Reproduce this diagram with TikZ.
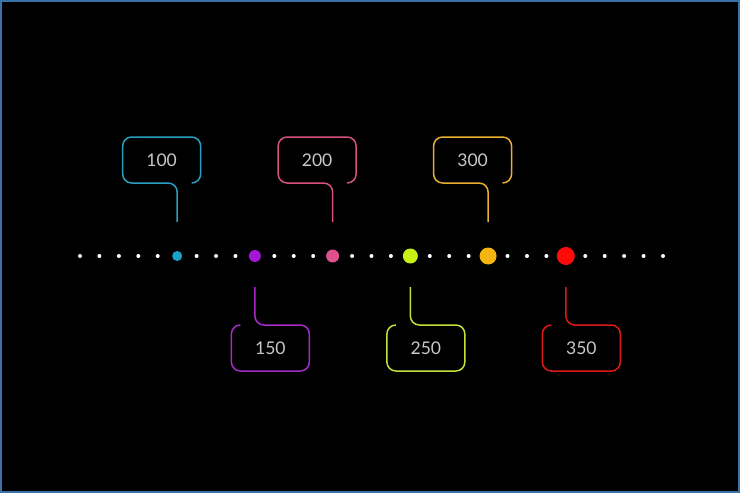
\documentclass[tikz,border=0pt]{standalone}
\usepackage{fontspec}
\setmainfont{Lato}
\usetikzlibrary{calc}
\definecolor{frame}{HTML}{3A72A8}
\definecolor{txt}{HTML}{C8C8C8}
\definecolor{cA}{HTML}{1AA3C9}\definecolor{bA}{HTML}{2A9FC0}
\definecolor{cB}{HTML}{A316D6}\definecolor{bB}{HTML}{A62BC9}
\definecolor{cC}{HTML}{E0508E}\definecolor{bC}{HTML}{D9507F}
\definecolor{cD}{HTML}{C8F014}\definecolor{bD}{HTML}{C6E03A}
\definecolor{cE}{HTML}{F5B50F}\definecolor{bE}{HTML}{E8AE2E}
\definecolor{cF}{HTML}{FF0A0A}\definecolor{bF}{HTML}{E01818}
\tikzset{
  smalldot/.style={circle,fill=white,inner sep=0pt,minimum size=4pt},
  bigdot/.style={circle,inner sep=0pt,minimum size=#1},
  callout/.style={line width=1.5pt,rounded corners=9pt},
  lbl/.style={text=txt,font=\fontsize{17.5}{18}\selectfont,inner sep=0pt}
}
\newcommand\topcallout[4]{%
  \coordinate (#1s) at ($(#1)+(0,-34)$);
  \draw[callout,#2] ($(#1)+(14.5,-73)$) -- ($(#1)+(23.5,-73)$) -- ($(#1)+(23.5,-119)$)
     -- ($(#1)+(-54.5,-119)$) -- ($(#1)+(-54.5,-73)$) -- ($(#1)+(0,-73)$) -- (#1s);
  \node[lbl] (#4) at ($(#1)+(-15.5,-96)$) {#3};
}
\newcommand\botcallout[4]{%
  \coordinate (#1s) at ($(#1)+(0,31)$);
  \draw[callout,#2] ($(#1)+(-14.5,69)$) -- ($(#1)+(-23.5,69)$) -- ($(#1)+(-23.5,115)$)
     -- ($(#1)+(54.5,115)$) -- ($(#1)+(54.5,69)$) -- ($(#1)+(0,69)$) -- (#1s);
  \node[lbl] (#4) at ($(#1)+(15.5,92)$) {#3};
}
\begin{document}
\begin{tikzpicture}[x=1pt,y=-1pt]
\fill[black] (0,0) rectangle (740,493);
\draw[frame,line width=2pt] (1,1) rectangle (739,492);
\useasboundingbox (0,0) rectangle (740,493);
\foreach \i in {0,...,30} \node[smalldot] (p\i) at ({80+\i*19.433},256) {};
\node[bigdot=10pt,fill=cA] (dA) at (p5) {};
\node[bigdot=12pt,fill=cB] (dB) at (p9) {};
\node[bigdot=13pt,fill=cC] (dC) at (p13) {};
\node[bigdot=15pt,fill=cD] (dD) at (p17) {};
\node[bigdot=17pt,fill=cE] (dE) at (p21) {};
\node[bigdot=18pt,fill=cF] (dF) at (p25) {};
\topcallout{dA}{bA}{100}{tA}
\botcallout{dB}{bB}{150}{tB}
\topcallout{dC}{bC}{200}{tC}
\botcallout{dD}{bD}{250}{tD}
\topcallout{dE}{bE}{300}{tE}
\botcallout{dF}{bF}{350}{tF}
\end{tikzpicture}
\end{document}
